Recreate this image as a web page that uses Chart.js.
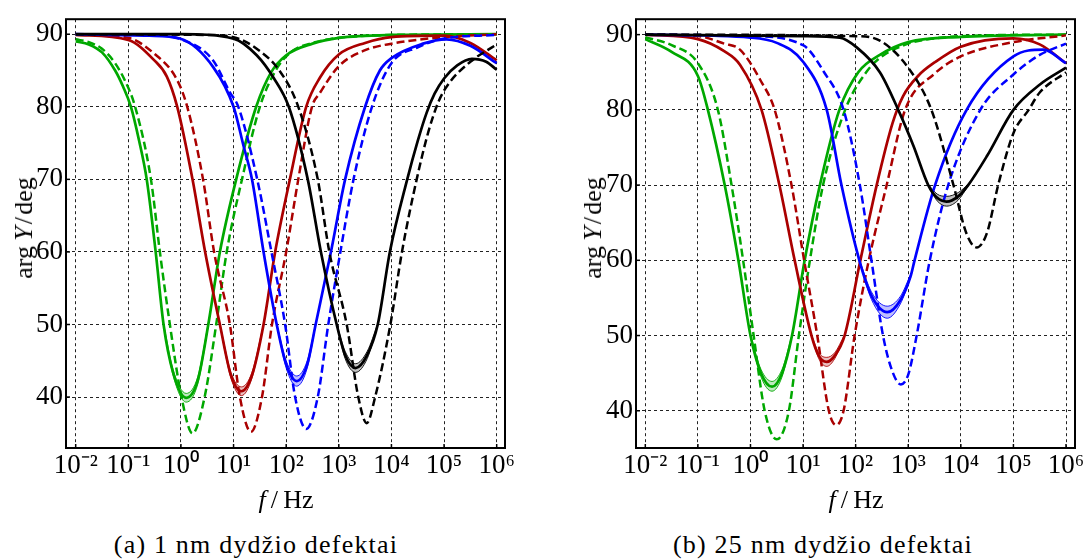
<!DOCTYPE html>
<html>
<head>
<meta charset="utf-8">
<script src="https://cdn.jsdelivr.net/npm/chart.js@4.4.1/dist/chart.umd.min.js"></script>
<style>
body { margin: 0; background: #fff; width: 1087px; height: 560px; position: relative; overflow: hidden; font-family: "Liberation Serif", serif; color: #000; }
canvas { position: absolute; top: 0; }
#cA { left: 0; }
#cB { left: 560px; }
.lbl { position: absolute; font-size: 26px; white-space: nowrap; transform: translate(-50%, -50%); }
.ylbl { transform: translate(-50%, -50%) rotate(-90deg); }
.cap { position: absolute; font-size: 26px; white-space: nowrap; transform: translate(-50%, -50%); letter-spacing: 1.2px; }
</style>
</head>
<body>
<canvas id="cA" width="540" height="520"></canvas>
<canvas id="cB" width="527" height="520"></canvas>
<div class="lbl ylbl" style="left:24px;top:228px">arg&#8201;<i>Y</i>&#8202;/&#8202;deg</div>
<div class="lbl" style="left:286px;top:500px"><i>f</i>&#8201;/&#8201;Hz</div>
<div class="cap" style="left:256px;top:545px">(a) 1 nm dydžio defektai</div>
<div class="lbl ylbl" style="left:593px;top:228px">arg&#8201;<i>Y</i>&#8202;/&#8202;deg</div>
<div class="lbl" style="left:856px;top:500px"><i>f</i>&#8201;/&#8201;Hz</div>
<div class="cap" style="left:823px;top:545px">(b) 25 nm dydžio defektai</div>
<script>
// x ticks: powers of ten, y ticks in degrees
var decades = [-2, -1, 0, 1, 2, 3, 4, 5, 6];
var degTicks = [40, 50, 60, 70, 80, 90];

// curves as [log10(f/Hz), argY in deg]
// (a) 1 nm
var greenSolidA = [[-2,89.0],[-1.75,88.6],[-1.5,87.5],[-1.25,85.0],[-1.1,82.8],[-0.95,80],[-0.8,75.5],[-0.65,70],[-0.48,60],[-0.33,50],[-0.15,43.4],[0.1,39.9],[0.32,42.3],[0.52,50],[0.74,60],[1.05,70],[1.43,80],[1.71,84.7],[2.0,87.1],[2.5,88.7],[3.0,89.5],[4.0,89.9],[6,90]];
var greenDashA = [[-2,89.3],[-1.75,88.9],[-1.5,88.0],[-1.25,86.0],[-1.05,83.4],[-0.87,80],[-0.57,70],[-0.40,60],[-0.21,50],[0.01,40],[0.22,35],[0.45,40],[0.67,50],[0.87,60],[1.16,70],[1.50,80],[1.8,85],[2.1,87.6],[2.5,88.8],[3.0,89.5],[4.0,89.9],[6,90]];
var redSolidA = [[-2,89.9],[-1,89.2],[-0.52,86.5],[-0.27,84.2],[-0.07,80],[0.22,70],[0.46,60],[0.74,50],[0.95,43],[1.15,40.8],[1.35,43],[1.57,50],[1.79,60],[2.07,70],[2.38,80],[2.64,84.0],[3.0,87.2],[3.5,88.8],[4.0,89.6],[5.0,89.8],[5.5,88.8],[6,86.4]];
var redDashA = [[-2,90],[-1,89.5],[-0.52,87.4],[-0.08,83.8],[0.12,80],[0.42,70],[0.63,60],[0.93,50],[1.12,40],[1.33,35.2],[1.54,40],[1.73,50],[2.0,60],[2.23,70],[2.49,80],[2.64,81.9],[3.0,85.6],[3.5,87.8],[4.0,88.7],[5.0,89.6],[6,90]];
var blueSolidA = [[-2,90],[-0.6,89.8],[-0.02,89.4],[0.62,85.4],[1.0,80],[1.19,74.6],[1.35,70],[1.57,60],[1.82,50],[2.0,44.5],[2.2,42.2],[2.4,44.5],[2.56,50],[2.85,60],[3.12,70],[3.5,80],[3.78,85],[4.0,86.7],[4.6,88.7],[5.05,89.3],[5.5,88.4],[6,86.0]];
var blueDashA = [[-2,90],[-0.5,89.9],[0,89.3],[0.6,86.5],[0.93,82],[1.09,80],[1.45,70],[1.72,60],[1.98,50],[2.17,40],[2.38,35.6],[2.6,40],[2.8,50],[3.03,60],[3.28,70],[3.63,80],[4.0,86.0],[4.5,88.2],[5.0,89.4],[6,89.9]];
var blackSolidA = [[-2,90],[0,90],[1.0,89.4],[1.44,87.1],[1.76,84.0],[2.05,80],[2.41,70],[2.66,60],[2.96,50],[3.12,45.8],[3.32,44.0],[3.54,45.8],[3.74,50],[3.97,60],[4.3,70],[4.5,75.3],[4.67,79.2],[4.82,81.8],[5.0,83.9],[5.25,85.7],[5.53,86.6],[5.8,86.2],[6,85.1]];
var blackDashA = [[-2,90],[0.5,89.9],[1.0,89.6],[1.44,88.0],[1.88,84.9],[2.23,80],[2.6,70],[2.82,60],[3.15,50],[3.37,40],[3.53,36.4],[3.69,40],[3.98,50],[4.2,60],[4.48,70],[4.7,76.5],[4.9,80.8],[5.1,83.3],[5.5,86.2],[6,88.6]];
// spread of the solid curves near the minimum: [log10 f, low, high]
var greenBandA = [[-0.33,49.9,50.1],[-0.15,43.0,43.8],[0.1,39.3,40.5],[0.32,41.8,42.8],[0.52,49.8,50.2]];
var redBandA = [[0.74,49.9,50.1],[0.95,42.6,43.4],[1.15,40.2,41.4],[1.35,42.6,43.4],[1.57,49.9,50.1]];
var blueBandA = [[1.82,49.9,50.1],[2.0,44.0,45.0],[2.2,41.5,42.9],[2.4,44.0,45.0],[2.56,49.9,50.1]];
var blackBandA = [[2.96,49.9,50.1],[3.12,45.3,46.3],[3.32,43.4,44.6],[3.54,45.3,46.3],[3.74,49.9,50.1]];

// (b) 25 nm
var greenSolidB = [[-2,89.4],[-1.5,87.7],[-1.0,84.5],[-0.81,80],[-0.49,70],[-0.23,60],[0.0,50],[0.2,45],[0.41,43.2],[0.6,45],[0.79,50],[1.03,60],[1.32,70],[1.69,80],[2.05,85],[2.46,87.3],[3.0,89.0],[4.0,89.7],[6,90]];
var greenDashB = [[-2,89.65],[-1.5,88.6],[-1.0,86.2],[-0.62,80],[-0.36,70],[-0.14,60],[0.06,50],[0.27,40],[0.5,36.2],[0.73,40],[0.92,50],[1.13,60],[1.38,70],[1.8,80],[2.2,85],[2.46,86.9],[3.0,88.8],[3.5,89.5],[4.5,89.9],[6,90]];
var redSolidB = [[-2,90],[-1.0,89.4],[-0.5,87.8],[-0.2,86.0],[0.21,80],[0.55,70],[0.84,60],[1.16,50],[1.3,47.3],[1.45,46.5],[1.6,47.3],[1.79,50],[2.09,60],[2.40,70],[2.70,78.2],[2.90,81.8],[3.2,84.6],[3.5,86.3],[4.0,88.4],[5.0,89.5],[5.5,88.7],[6,86.2]];
var redDashB = [[-2,90],[-1.0,89.8],[-0.5,88.8],[-0.2,88.0],[0.2,83.8],[0.46,80],[0.78,70],[1.02,60],[1.27,50],[1.49,40],[1.63,38.1],[1.77,40],[1.98,50],[2.25,60],[2.59,70],[2.94,80],[3.5,84.8],[4.0,87.1],[5.0,89.0],[6,89.9]];
var blueSolidB = [[-2,90],[0,89.6],[0.5,88.9],[1.0,86.4],[1.45,80],[1.73,70],[2.07,60],[2.3,55.3],[2.6,53.1],[2.85,54.7],[3.05,58],[3.12,60],[3.51,70],[4.11,80],[5.0,87.1],[5.57,88.0],[6,86.2]];
var blueDashB = [[-2,90],[0,89.8],[1.0,88.6],[1.4,85],[1.77,80],[2.08,70],[2.30,60],[2.52,50],[2.7,45.2],[2.86,43.5],[3.0,44.8],[3.16,50],[3.41,60],[3.76,70],[4.37,80],[5.0,84.7],[5.5,87.3],[6,88.8]];
var blackSolidB = [[-2,90],[1.0,89.8],[1.7,89.6],[2.02,88.3],[2.46,85.0],[2.81,80],[3.1,75.2],[3.38,70],[3.55,68.3],[3.73,67.8],[3.95,68.5],[4.14,70],[4.5,73.9],[5.0,80],[5.51,83.4],[6,85.6]];
var blackDashB = [[-2,90],[2.0,89.8],[2.46,89.2],[3.0,85.6],[3.44,80],[3.86,70],[4.1,63.7],[4.30,61.7],[4.5,63.7],[4.71,70],[5.0,76.9],[5.29,80],[5.5,82.3],[6,85.0]];
var greenBandB = [[0.0,49.9,50.1],[0.2,44.5,45.5],[0.41,42.6,43.9],[0.6,44.5,45.5],[0.79,49.9,50.1]];
var redBandB = [[1.16,49.9,50.1],[1.3,46.9,47.7],[1.45,45.9,47.1],[1.6,46.9,47.7],[1.79,49.9,50.1]];
var blueBandB = [[2.07,59.9,60.1],[2.3,54.8,55.8],[2.6,52.3,53.9],[2.85,54.2,55.2],[3.05,57.8,58.2]];
var blackBandB = [[3.38,69.9,70.1],[3.55,67.9,68.8],[3.73,67.2,68.5],[3.95,68.0,69.0],[4.14,69.9,70.1]];

var GREEN = "#00a800", RED = "#aa0000", BLUE = "#0000ff", BLACK = "#000000";
var TINT = { "#00a800": "rgba(0,168,0,0.25)", "#aa0000": "rgba(170,0,0,0.25)", "#0000ff": "rgba(0,0,255,0.25)", "#000000": "rgba(0,0,0,0.25)" };
var SUP = { "-": "\u207B", "0": "\u2070", "1": "\u00B9", "2": "\u00B2", "3": "\u00B3", "4": "\u2074", "5": "\u2075", "6": "\u2076" };

function pts(arr, k) {
	return arr.map(function (p) { return { x: Math.pow(10, p[0]), y: p[k || 1] }; });
}

function line(arr, color, dashed) {
	return { data: pts(arr), borderColor: color, borderWidth: dashed ? 2.5 : 2.7, borderDash: dashed ? [8, 4] : [], fill: false };
}

function band(arr, color) {
	return [
		{ data: pts(arr, 1), borderColor: color, borderWidth: 0.9, fill: false },
		{ data: pts(arr, 2), borderColor: color, borderWidth: 0.9, fill: "-1", backgroundColor: TINT[color] }
	];
}

var frame = {
	id: "frame",
	afterDraw: function (c) {
		var a = c.chartArea, g = c.ctx;
		g.save();
		g.strokeStyle = "#000";
		g.lineWidth = 1.5;
		decades.forEach(function (e) {
			var px = c.scales.x.getPixelForValue(Math.pow(10, e));
			g.beginPath(); g.moveTo(px, a.bottom); g.lineTo(px, a.bottom - 4); g.stroke();
		});
		degTicks.forEach(function (d) {
			var py = c.scales.y.getPixelForValue(d);
			g.beginPath(); g.moveTo(a.left, py); g.lineTo(a.left + 4, py); g.stroke();
		});
		g.lineWidth = 2;
		g.strokeRect(a.left, a.top, a.right - a.left, a.bottom - a.top);
		g.restore();
	}
};

function makeChart(id, curves, bands, xr, yr, yWidth, padRight) {
	var datasets = [];
	curves.forEach(function (c) { datasets.push(line(c[0], c[1], c[2])); });
	bands.forEach(function (b) { datasets = datasets.concat(band(b[0], b[1])); });
	return new Chart(document.getElementById(id).getContext("2d"), {
		type: "line",
		data: { datasets: datasets },
		plugins: [frame],
		options: {
			responsive: false,
			animation: false,
			layout: { padding: { left: 0, top: 8, right: padRight, bottom: 0 } },
			elements: { point: { radius: 0 }, line: { cubicInterpolationMode: "monotone" } },
			plugins: { legend: { display: false }, tooltip: { enabled: false } },
			scales: {
				x: {
					type: "logarithmic",
					min: Math.pow(10, xr[0]),
					max: Math.pow(10, xr[1]),
					afterBuildTicks: function (s) { s.ticks = decades.map(function (e) { return { value: Math.pow(10, e) }; }); },
					afterFit: function (s) { s.height = 72; },
					ticks: {
						autoSkip: false, maxRotation: 0, padding: 2, color: "#000",
						font: { family: "Liberation Serif", size: 27 },
						callback: function (v) {
							var e = String(Math.round(Math.log10(v)));
							return "10" + e.split("").map(function (ch) { return SUP[ch]; }).join("");
						}
					},
					grid: { color: "#222", lineWidth: 1, drawTicks: false },
					border: { display: false, dash: [3, 3] }
				},
				y: {
					min: yr[0],
					max: yr[1],
					afterBuildTicks: function (s) { s.ticks = degTicks.map(function (d) { return { value: d }; }); },
					afterFit: function (s) { s.width = yWidth; },
					ticks: { padding: 3, color: "#000", font: { family: "Liberation Serif", size: 27 } },
					grid: { color: "#222", lineWidth: 1, drawTicks: false },
					border: { display: false, dash: [3, 3] }
				}
			}
		}
	});
}

makeChart("cA",
	[[blackSolidA, BLACK], [blackDashA, BLACK, true], [blueSolidA, BLUE], [blueDashA, BLUE, true],
	 [redSolidA, RED], [redDashA, RED, true], [greenSolidA, GREEN], [greenDashA, GREEN, true]],
	[[greenBandA, GREEN], [redBandA, RED], [blueBandA, BLUE], [blackBandA, BLACK]],
	[-2.184, 6.158], [32.98, 92.07], 66, 35);

makeChart("cB",
	[[blackSolidB, BLACK], [blackDashB, BLACK, true], [blueSolidB, BLUE], [blueDashB, BLUE, true],
	 [redSolidB, RED], [redDashB, RED, true], [greenSolidB, GREEN], [greenDashB, GREEN, true]],
	[[greenBandB, GREEN], [redBandB, RED], [blueBandB, BLUE], [blackBandB, BLACK]],
	[-2.177, 6.171], [35.05, 92.05], 76, 12);
</script>
</body>
</html>
